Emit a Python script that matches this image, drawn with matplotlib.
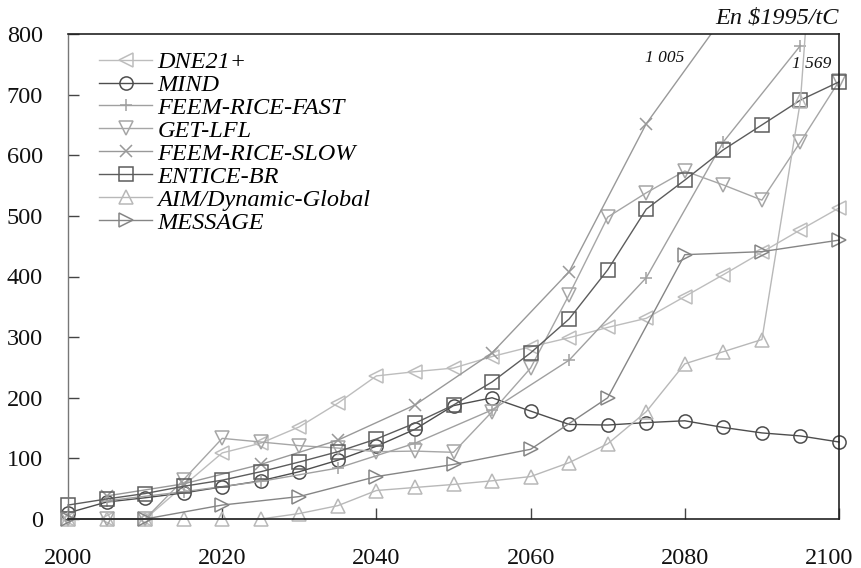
import matplotlib.pyplot as plt
from matplotlib.patches import Rectangle
from matplotlib.transforms import ScaledTranslation

plt.rcParams['font.family'] = ['Liberation Serif', 'DejaVu Serif']

years = [2000, 2005, 2010, 2015, 2020, 2025, 2030, 2035, 2040, 2045, 2050,
         2055, 2060, 2065, 2070, 2075, 2080, 2085, 2090, 2095, 2100]
years_10 = [2000, 2010, 2020, 2030, 2040, 2050, 2060, 2070, 2080, 2090, 2100]
years_feem = [2005, 2015, 2025, 2035, 2045, 2055, 2065, 2075, 2085, 2095]

dne21 = [0, 0, 0, 55, 109, 125, 152, 191, 236, 243, 249,
         268, 284, 299, 316, 331, 367, 403, 440, 477, 513]
mind = [10, 28, 35, 43, 53, 63, 78, 97, 120, 148, 187,
        200, 178, 156, 155, 159, 162, 151, 142, 137, 127]
feem_fast = [30, 45, 62, 84, 125, 180, 262, 398, 622, 781]
get_lfl = [0, 0, 0, 65, 133, 127, 121, 117, 111, 112, 110,
           177, 249, 370, 498, 538, 574, 551, 526, 622, 722]
feem_slow = [38, 58, 90, 130, 188, 274, 408, 652, 828, 1005]
entice = [23, 33, 42, 54, 64, 78, 94, 111, 132, 158, 188,
          226, 274, 330, 411, 511, 559, 609, 650, 691, 721]
aim = [0, 0, 0, 0, 0, 0, 9, 22, 47, 52, 57,
       63, 70, 93, 124, 177, 256, 276, 296, 690, 1569]
message = [0, 0, 23, 37, 70, 90, 115, 200, 436, 441, 460]

series = [
    ("DNE21+", years, dne21, "<", "#bdbdbd"),
    ("MIND", years, mind, "o", "#4d4d4d"),
    ("FEEM-RICE-FAST", years_feem, feem_fast, "+", "#a0a0a0"),
    ("GET-LFL", years, get_lfl, "v", "#a6a6a6"),
    ("FEEM-RICE-SLOW", years_feem, feem_slow, "x", "#999999"),
    ("ENTICE-BR", years, entice, "s", "#5c5c5c"),
    ("AIM/Dynamic-Global", years, aim, "^", "#b8b8b8"),
    ("MESSAGE", years_10, message, ">", "#858585"),
]

fig = plt.figure(figsize=(8.61, 5.68), dpi=100)
ax = fig.add_axes([68 / 861, 49 / 568, 771 / 861, 485 / 568])

# let markers spill past the bottom and sides, but cut lines at the top
clip = Rectangle((-0.05, -0.1), 1.1, 1.1, transform=ax.transAxes)

for name, xs, ys, mk, col in series:
    ms = 9 if mk in ("+", "x") else 9.5
    ln, = ax.plot(xs, ys, color=col, lw=1.0, marker=mk, ms=ms,
                  mfc="none", mec=col, mew=1.1, label=name)
    ln.set_clip_path(clip)

ax.set_xlim(2000, 2100)
ax.set_ylim(0, 800)
ax.set_xticks(range(2000, 2101, 20))
ax.set_yticks(range(0, 801, 100))
ax.tick_params(direction="in", length=8, width=1, colors="#444444",
               labelcolor="#111111", labelsize=17.5, pad=21)
ax.tick_params(axis="y", pad=18)

# pull the last year label in so it stays on the canvas
last = ax.get_xticklabels()[-1]
last.set_transform(last.get_transform() + ScaledTranslation(-10 / 100, 0, fig.dpi_scale_trans))

for side in ("top", "right", "bottom"):
    ax.spines[side].set_color("#222222")
    ax.spines[side].set_linewidth(1.2)
ax.spines["left"].set_color("#777777")
ax.spines["left"].set_linewidth(1.0)

leg = ax.legend(loc="upper left", bbox_to_anchor=(0.018, 1.0), frameon=False,
                prop={"style": "italic", "size": 17.5}, handlelength=2.2,
                handletextpad=0.2, labelspacing=0.04, borderpad=0.2)

ax.text(1.0, 1.012, r"En \$1995/tC", transform=ax.transAxes, ha="right",
        va="bottom", fontsize=17.5, style="italic", color="#111111")
ax.text(2080, 760, "1 005", ha="right", va="center", fontsize=12.5,
        style="italic", color="#111111")
ax.text(2099, 750, "1 569", ha="right", va="center", fontsize=12.5,
        style="italic", color="#111111")

fig.savefig("out.png", dpi=100)
